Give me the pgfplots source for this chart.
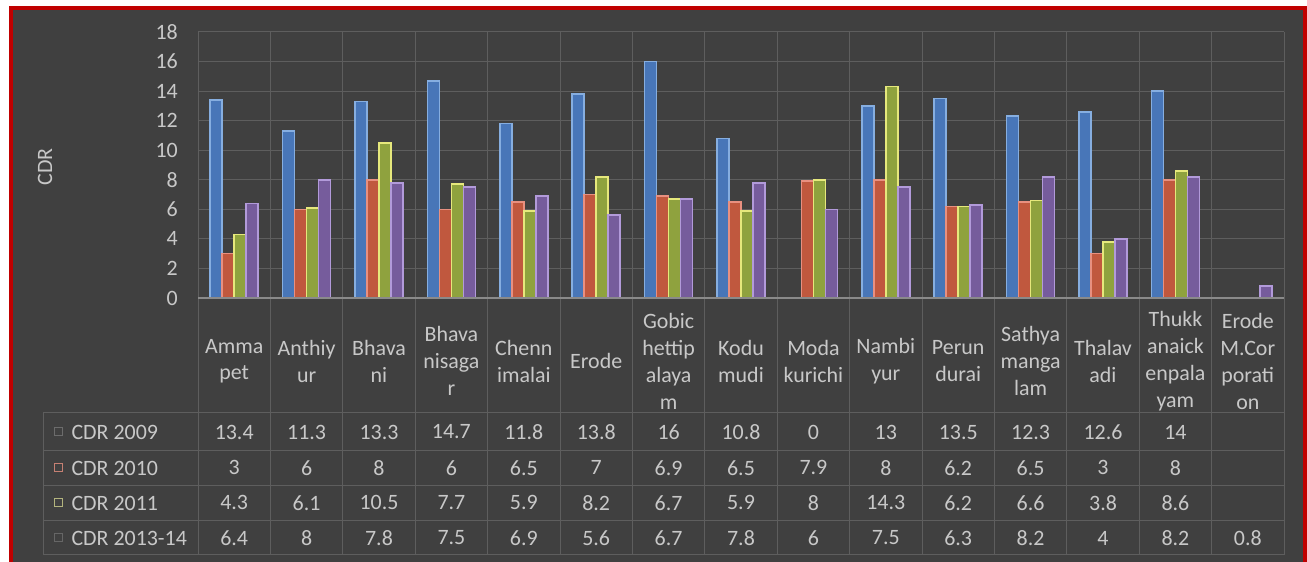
\documentclass[border=0pt]{standalone}
\usepackage{pgfplots}
\pgfplotsset{compat=1.18}
\usepackage{pgfplotstable}
\usepackage{fontspec}
\setmainfont{Carlito}

\definecolor{bg}{HTML}{404040}
\definecolor{bordred}{HTML}{C00000}
\definecolor{gridc}{HTML}{5E5E5E}
\definecolor{axisc}{HTML}{8A8A8A}
\definecolor{txt}{HTML}{C8C8C8}
\definecolor{c1f}{HTML}{4876B8}
\definecolor{c1d}{HTML}{86AEE0}
\definecolor{c2f}{HTML}{C0583E}
\definecolor{c2d}{HTML}{E89080}
\definecolor{c3f}{HTML}{8FA23E}
\definecolor{c3d}{HTML}{E6E87C}
\definecolor{c4f}{HTML}{765C9C}
\definecolor{c4d}{HTML}{B29ADA}

% CDR by block: a = 2009, b = 2010, c = 2011, d = 2013-14
\pgfplotstableread{
idx a    b    c    d
0   13.4 3    4.3  6.4
1   11.3 6    6.1  8
2   13.3 8    10.5 7.8
3   14.7 6    7.7  7.5
4   11.8 6.5  5.9  6.9
5   13.8 7    8.2  5.6
6   16   6.9  6.7  6.7
7   10.8 6.5  5.9  7.8
8   0    7.9  8    6
9   13   8    14.3 7.5
10  13.5 6.2  6.2  6.3
11  12.3 6.5  6.6  8.2
12  12.6 3    3.8  4
13  14   8    8.6  8.2
14  nan  nan  nan  0.8
}\cdr

\newcommand{\tfont}{\fontsize{22}{27}\selectfont}

\begin{document}
\begin{tikzpicture}
\fill[white] (0bp,0bp) rectangle (1307bp,562bp);
\fill[bordred] (9bp,0bp) rectangle (1307bp,556bp);
\fill[bg] (13bp,0bp) rectangle (1303bp,552bp);

% table grid
\begin{scope}[draw=gridc, line width=1bp]
  \foreach \y in {149,111,76,41,7} \draw (43bp,\y bp) -- (1285bp,\y bp);
  \draw (43bp,149bp) -- (43bp,7bp);
  \foreach \k in {0,...,15} \draw ({(198+\k*72.4)*1bp},530bp) -- ({(198+\k*72.4)*1bp},7bp);
\end{scope}

% legend column of the data table
\node[anchor=west, text=txt, font=\tfont] at (68bp,130bp) {CDR 2009};
\node[anchor=west, text=txt, font=\tfont] at (68bp,94bp) {CDR 2010};
\node[anchor=west, text=txt, font=\tfont] at (68bp,59bp) {CDR 2011};
\node[anchor=west, text=txt, font=\tfont] at (68bp,24bp) {CDR 2013-14};
\draw[gray!70!bg, line width=1bp] (54bp,126bp) rectangle (62bp,134bp);
\draw[c2d!80!bg, line width=1bp] (54bp,90bp) rectangle (62bp,98bp);
\draw[c3d!50!gray, line width=1bp] (54bp,55bp) rectangle (62bp,63bp);
\draw[gray!60!bg, line width=1bp] (54bp,20bp) rectangle (62bp,28bp);

\node[rotate=90, text=txt, font=\tfont] at (45bp,395bp) {CDR};

\begin{axis}[
  at={(198bp,264bp)}, anchor=south west,
  scale only axis, width=1086bp, height=266bp,
  xmin=-0.5, xmax=14.5, ymin=0, ymax=18,
  ytick={0,2,...,18},
  xtick={0,...,14},
  xticklabels={Amma\\pet, Anthiy\\ur, Bhava\\ni, Bhava\\nisaga\\r, Chenn\\imalai,
    Erode, Gobic\\hettip\\alaya\\m, Kodu\\mudi, Moda\\kurichi, Nambi\\yur,
    Perun\\durai, Sathya\\manga\\lam, Thalav\\adi, Thukk\\anaick\\enpala\\yam,
    Erode\\M.Cor\\porati\\on},
  axis line style={draw=none},
  tick style={draw=none},
  ymajorgrids,
  major grid style={draw=gridc, line width=1bp},
  ticklabel style={font=\tfont, text=txt, inner sep=0pt},
  yticklabel style={xshift=-20bp},
  xticklabel style={align=center, anchor=center, yshift=-59bp},
  /pgf/number format/assume math mode=true,
  ybar=0pt, bar width=12bp,
  clip=false,
]
\addplot[fill=c1f, draw=c1d, line width=1.6bp] table[x=idx, y=a] {\cdr};
\addplot[fill=c2f, draw=c2d, line width=1.6bp] table[x=idx, y=b] {\cdr};
\addplot[fill=c3f, draw=c3d, line width=1.6bp] table[x=idx, y=c] {\cdr};
\addplot[fill=c4f, draw=c4d, line width=1.6bp] table[x=idx, y=d] {\cdr};
\draw[axisc, line width=1.2bp] (axis cs:-0.5,0) -- (axis cs:14.5,0);
\end{axis}

% values of the data table
\begin{axis}[
  at={(198bp,264bp)}, anchor=south west,
  scale only axis, width=1086bp, height=266bp,
  xmin=-0.5, xmax=14.5, ymin=0, ymax=18,
  hide axis, clip=false, no markers,
  /pgf/number format/assume math mode=true,
  every axis plot post/.append style={draw=none, mark=none,
    nodes near coords, point meta=explicit,
    every node near coord/.append style={anchor=center, font=\tfont, text=txt, inner sep=0pt}},
]
\addplot table[x=idx, y expr=\thisrow{a}*0-9.07, meta=a] {\cdr};
\addplot table[x=idx, y expr=\thisrow{b}*0-11.5, meta=b] {\cdr};
\addplot table[x=idx, y expr=\thisrow{c}*0-13.87, meta=c] {\cdr};
\addplot table[x=idx, y expr=\thisrow{d}*0-16.24, meta=d] {\cdr};
\end{axis}
\end{tikzpicture}
\end{document}
